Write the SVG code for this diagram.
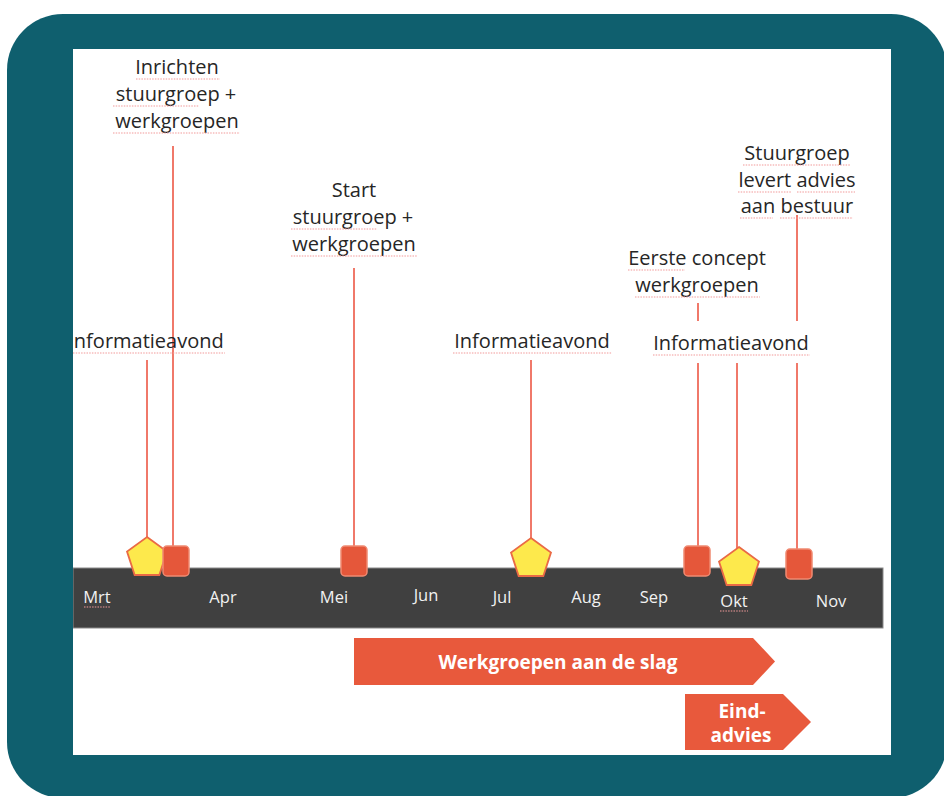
<svg xmlns="http://www.w3.org/2000/svg" width="944" height="796" viewBox="0 0 944 796">
  <style>
    .lbl { font-family: "Open Sans", "Noto Sans", "DejaVu Sans", sans-serif; font-size: 20px; fill: #262626; text-anchor: middle; }
    .mon { font-family: "Open Sans", "Noto Sans", "DejaVu Sans", sans-serif; font-size: 16.5px; fill: #f2f2f2; text-anchor: middle; }
    .bar { font-family: "Open Sans", "Noto Sans", "DejaVu Sans", sans-serif; font-size: 19px; font-weight: bold; fill: #ffffff; text-anchor: middle; }
    .con { stroke: #f0796a; stroke-width: 2; fill: none; }
    .sq { fill: #e5573a; stroke: #f08a72; stroke-width: 1.5; }
    .pent { fill: #fde94c; stroke: #ea6a45; stroke-width: 1.8; }
    .sp { stroke: #f29a9a; stroke-width: 1.2; stroke-dasharray: 1.5 1.2; fill: none; }
    .arrow { fill: #e8593c; }
  </style>
  <defs>
    <polygon id="pentagon" points="0,-21 19.97,-6.49 12.34,16.99 -12.34,16.99 -19.97,-6.49"/>
    <clipPath id="inner"><rect x="73" y="49" width="818" height="706"/></clipPath>
  </defs>

  <!-- frame -->
  <rect x="7" y="14" width="940" height="784" rx="56" fill="#0f5f6e"/>
  <rect x="73" y="49" width="818" height="706" fill="#ffffff"/>

  <g clip-path="url(#inner)">
    <!-- timeline bar -->
    <g id="timeline">
      <rect x="73" y="568" width="810" height="60" fill="#404040" stroke="#8a8a8a" stroke-width="1"/>
      <text class="mon" x="97" y="603">Mrt</text>
      <text class="mon" x="223" y="603">Apr</text>
      <text class="mon" x="334" y="603">Mei</text>
      <text class="mon" x="426" y="601">Jun</text>
      <text class="mon" x="502" y="603">Jul</text>
      <text class="mon" x="586" y="603">Aug</text>
      <text class="mon" x="654" y="603">Sep</text>
      <text class="mon" x="734" y="607">Okt</text>
      <text class="mon" x="831" y="607">Nov</text>
      <line class="sp" x1="84" y1="607" x2="111" y2="607"/>
      <line class="sp" x1="720" y1="611" x2="748" y2="611"/>
    </g>

    <!-- connectors -->
    <g id="connectors">
      <line class="con" x1="147" y1="360" x2="147" y2="540"/>
      <line class="con" x1="173" y1="146" x2="173" y2="548"/>
      <line class="con" x1="354" y1="268" x2="354" y2="548"/>
      <line class="con" x1="531" y1="360" x2="531" y2="540"/>
      <line class="con" x1="698" y1="303" x2="698" y2="321"/>
      <line class="con" x1="698" y1="363" x2="698" y2="548"/>
      <line class="con" x1="737" y1="363" x2="737" y2="549"/>
      <line class="con" x1="797" y1="215" x2="797" y2="321"/>
      <line class="con" x1="797" y1="363" x2="797" y2="551"/>
    </g>

    <!-- labels -->
    <g id="label-info1">
      <text class="lbl" x="146" y="348">Informatieavond</text>
      <line class="sp" x1="73" y1="353" x2="225" y2="353"/>
    </g>
    <g id="label-inrichten">
      <text class="lbl" x="177" y="74">Inrichten</text>
      <text class="lbl" x="176" y="101">stuurgroep +</text>
      <text class="lbl" x="177" y="128">werkgroepen</text>
      <line class="sp" x1="136" y1="79" x2="220" y2="79"/>
      <line class="sp" x1="113" y1="106" x2="199" y2="106"/>
      <line class="sp" x1="113" y1="133" x2="240" y2="133"/>
    </g>
    <g id="label-start">
      <text class="lbl" x="354" y="197">Start</text>
      <text class="lbl" x="353" y="224">stuurgroep +</text>
      <text class="lbl" x="354" y="251">werkgroepen</text>
      <line class="sp" x1="291" y1="229" x2="377" y2="229"/>
      <line class="sp" x1="291" y1="256" x2="417" y2="256"/>
    </g>
    <g id="label-info2">
      <text class="lbl" x="532" y="348">Informatieavond</text>
      <line class="sp" x1="453" y1="353" x2="612" y2="353"/>
    </g>
    <g id="label-eerste">
      <text class="lbl" x="697" y="265">Eerste concept</text>
      <text class="lbl" x="697" y="292">werkgroepen</text>
      <line class="sp" x1="628" y1="270" x2="685" y2="270"/>
      <line class="sp" x1="635" y1="297" x2="760" y2="297"/>
    </g>
    <g id="label-info3">
      <text class="lbl" x="731" y="350">Informatieavond</text>
      <line class="sp" x1="653" y1="355" x2="810" y2="355"/>
    </g>
    <g id="label-stuurgroep">
      <text class="lbl" x="797" y="160">Stuurgroep</text>
      <text class="lbl" x="797" y="187">levert advies</text>
      <text class="lbl" x="797" y="213">aan bestuur</text>
      <line class="sp" x1="743" y1="165" x2="851" y2="165"/>
      <line class="sp" x1="738" y1="192" x2="792" y2="192"/>
      <line class="sp" x1="797" y1="192" x2="855" y2="192"/>
      <line class="sp" x1="740" y1="218" x2="773" y2="218"/>
      <line class="sp" x1="780" y1="218" x2="853" y2="218"/>
    </g>

    <!-- markers -->
    <g id="marker-info1"><use href="#pentagon" class="pent" transform="translate(147,558)"/></g>
    <g id="marker-inrichten"><rect class="sq" x="163" y="546" width="26" height="30" rx="4"/></g>
    <g id="marker-start"><rect class="sq" x="341" y="546" width="26" height="30" rx="4"/></g>
    <g id="marker-info2"><use href="#pentagon" class="pent" transform="translate(531,559)"/></g>
    <g id="marker-eerste"><rect class="sq" x="684" y="546" width="26" height="30" rx="4"/></g>
    <g id="marker-info3"><use href="#pentagon" class="pent" transform="translate(739,568)"/></g>
    <g id="marker-stuurgroep"><rect class="sq" x="786" y="549" width="26" height="30" rx="4"/></g>

    <!-- phase arrows -->
    <g id="phase-werkgroepen">
      <polygon class="arrow" points="354,638 753,638 775,661.5 753,685 354,685"/>
      <text class="bar" x="558" y="669">Werkgroepen aan de slag</text>
    </g>
    <g id="phase-eindadvies">
      <polygon class="arrow" points="685,694 783,694 811,722 783,750 685,750"/>
      <text class="bar" x="742" y="718">Eind-</text>
      <text class="bar" x="741" y="742">advies</text>
    </g>
  </g>
</svg>
